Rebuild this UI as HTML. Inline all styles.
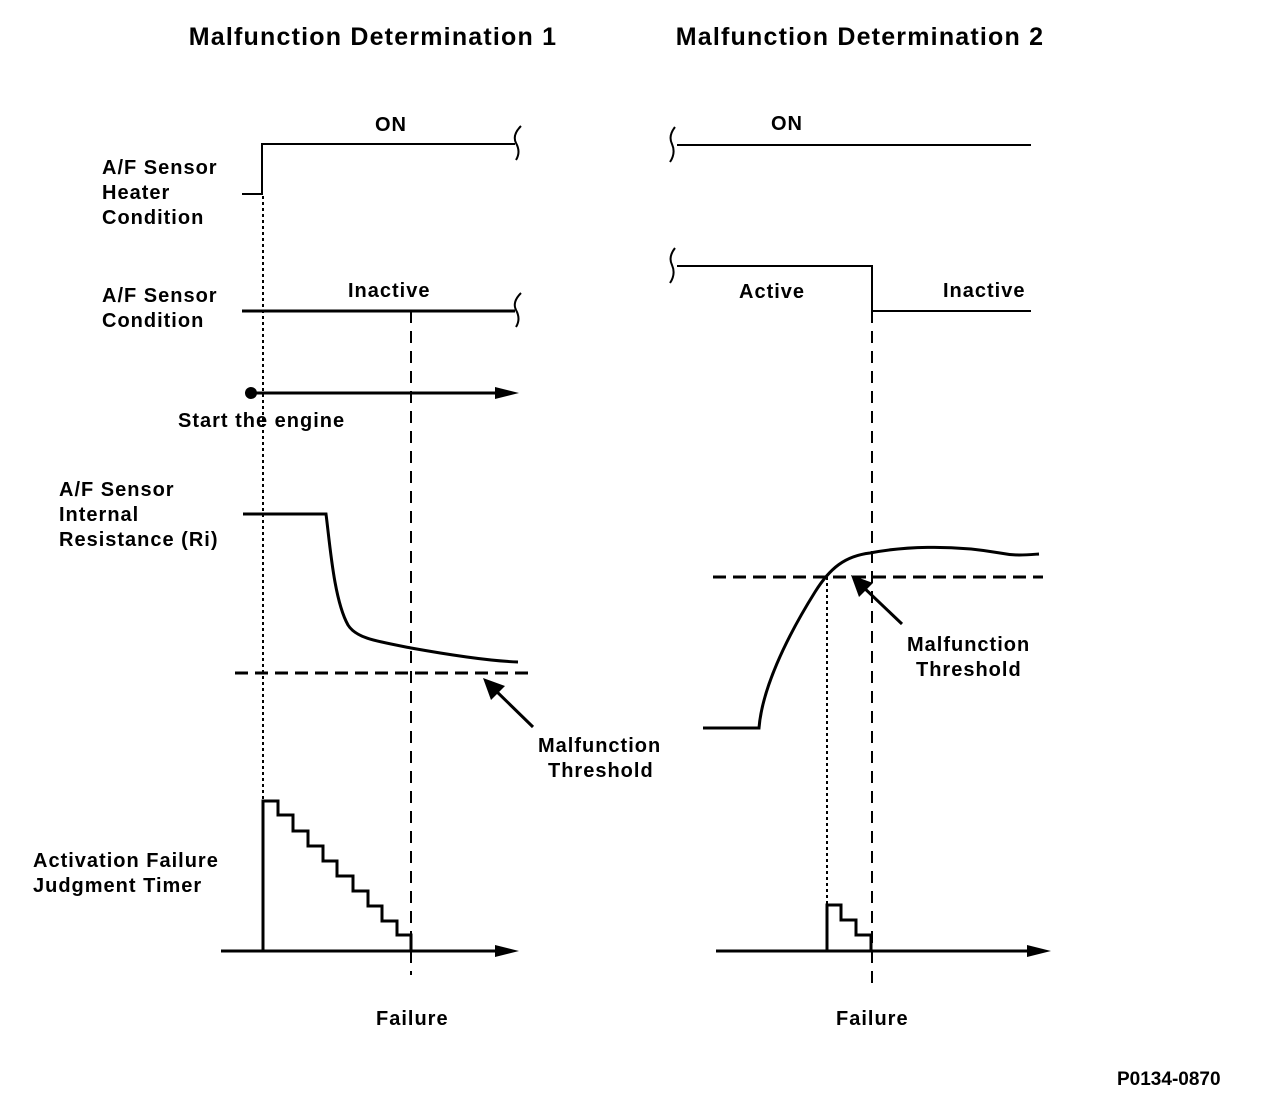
<!DOCTYPE html>
<html><head><style>
html,body{margin:0;padding:0;background:#fff;}
svg{display:block;}
text{font-family:"Liberation Sans",Arial,sans-serif;font-weight:bold;fill:#000;}
</style></head><body>
<svg width="1264" height="1102" viewBox="0 0 1264 1102" xmlns="http://www.w3.org/2000/svg">
<g font-size="25" text-anchor="middle" letter-spacing="1.2">
<text x="373" y="45">Malfunction Determination 1</text>
<text x="860" y="45">Malfunction Determination 2</text>
</g>
<g font-size="20" letter-spacing="1">
<text x="102" y="174">A/F Sensor</text>
<text x="102" y="199">Heater</text>
<text x="102" y="224">Condition</text>
<text x="102" y="302">A/F Sensor</text>
<text x="102" y="327">Condition</text>
<text x="178" y="427">Start the engine</text>
<text x="59" y="496">A/F Sensor</text>
<text x="59" y="521">Internal</text>
<text x="59" y="546">Resistance (Ri)</text>
<text x="33" y="867">Activation Failure</text>
<text x="33" y="892">Judgment Timer</text>
<text x="375" y="131">ON</text>
<text x="348" y="297">Inactive</text>
<text x="771" y="130">ON</text>
<text x="739" y="298">Active</text>
<text x="943" y="297">Inactive</text>
<text x="538" y="752">Malfunction</text>
<text x="548" y="777">Threshold</text>
<text x="907" y="651">Malfunction</text>
<text x="916" y="676">Threshold</text>
<text x="376" y="1025">Failure</text>
<text x="836" y="1025">Failure</text>
<text x="1117" y="1085" font-size="19" letter-spacing="0">P0134-0870</text>
</g>
<g fill="none" stroke="#000" stroke-width="2">
<polyline points="242,194 262,194 262,144 515,144"/>
<path d="M521,126 Q512,135 516,143 Q521,152 516,160"/>
<line x1="242" y1="311" x2="515" y2="311" stroke-width="3"/>
<path d="M521,293 Q512,302 516,310 Q521,319 516,327"/>
<line x1="677" y1="145" x2="1031" y2="145"/>
<path d="M675,127 Q668,136 672,144 Q676,153 670,162"/>
<polyline points="677,266 872,266 872,311 1031,311"/>
<path d="M675,248 Q668,257 672,265 Q676,274 670,283"/>
<line x1="263" y1="196" x2="263" y2="801" stroke-dasharray="3,3"/>
<line x1="827" y1="577" x2="827" y2="905" stroke-dasharray="3,3"/>
<line x1="411" y1="311" x2="411" y2="975" stroke-dasharray="12,8"/>
<line x1="872" y1="311" x2="872" y2="985" stroke-dasharray="12,8"/>
<line x1="251" y1="393" x2="500" y2="393" stroke-width="3"/>
<path d="M243,514 L326,514 C330,545 334,600 348,625 C356,638 375,641 411,648 C450,655 490,661 518,662" stroke-width="3"/>
<path d="M703,728 L759,728 C762,690 785,640 815,592 C830,568 845,556 870,553 C900,547 950,544 1000,553 C1015,556 1025,555 1039,554" stroke-width="3"/>
<line x1="235" y1="673" x2="531" y2="673" stroke-width="3" stroke-dasharray="13,7"/>
<line x1="713" y1="577" x2="1043" y2="577" stroke-width="3" stroke-dasharray="13,7"/>
<line x1="533" y1="727" x2="492" y2="687" stroke-width="3"/>
<line x1="902" y1="624" x2="860" y2="584" stroke-width="3"/>
<polyline points="263,951 263,801 278,801 278,815 293,815 293,831 308,831 308,846 323,846 323,861 337,861 337,876 353,876 353,891 368,891 368,906 382,906 382,921 397,921 397,935 411,935 411,951" stroke-width="3"/>
<polyline points="827,951 827,905 841,905 841,920 856,920 856,935 871,935 871,951" stroke-width="3"/>
<line x1="221" y1="951" x2="500" y2="951" stroke-width="3"/>
<line x1="716" y1="951" x2="1032" y2="951" stroke-width="3"/>
</g>
<g fill="#000">
<circle cx="251" cy="393" r="6"/>
<polygon points="495,387 519,393 495,399"/>
<polygon points="495,945 519,951 495,957"/>
<polygon points="1027,945 1051,951 1027,957"/>
<polygon points="483,678 505,686 491,700"/>
<polygon points="851,575 873,583 859,597"/>
</g>
</svg>
</body></html>
